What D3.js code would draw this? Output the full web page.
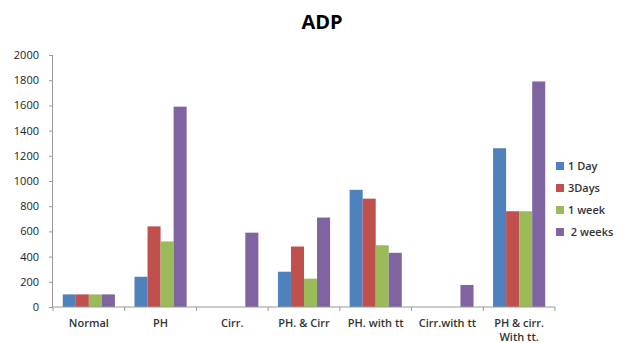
<!DOCTYPE html>
<html>
<head>
<meta charset="utf-8">
<script src="https://cdn.jsdelivr.net/npm/d3@7"></script>
<style>
  body { margin: 0; background: #fff; }
  svg { display: block; font-family: "Open Sans", "DejaVu Sans", sans-serif; }
</style>
</head>
<body>
<svg id="chart" width="624" height="343"></svg>
<script>
// ADP levels by group and time point
const categories = ["Normal", "PH", "Cirr.", "PH. & Cirr", "PH. with tt", "Cirr.with tt", "PH & cirr.|With tt."];
const seriesNames = ["1 Day", "3Days", "1 week", " 2 weeks"];
const day1   = [100, 240, 0, 280, 930, 0, 1260];
const days3  = [100, 640, 0, 480, 860, 0, 760];
const week1  = [100, 520, 0, 225, 490, 0, 760];
const weeks2 = [100, 1590, 590, 710, 430, 175, 1790];
const colors = ["#4F81BD", "#C0504D", "#9BBB59", "#8064A2"];
const yTicks = [0, 200, 400, 600, 800, 1000, 1200, 1400, 1600, 1800, 2000];

const series = [day1, days3, week1, weeks2];
const svg = d3.select("#chart");
const m = { left: 53, right: 555, top: 55, bottom: 307 };

const x = d3.scaleBand().domain(categories).range([m.left, m.right]).paddingInner(0).paddingOuter(0);
const xs = d3.scaleBand().domain(d3.range(series.length)).range([0, x.bandwidth()]).paddingOuter(0.75).paddingInner(0);
const y = d3.scaleLinear().domain([0, 2000]).range([m.bottom, m.top]);

// Title
svg.append("text").attr("x", 322).attr("y", 29).attr("text-anchor", "middle")
  .attr("font-size", 20).attr("font-weight", "bold").attr("fill", "#000").text("ADP");

// Bars
const groups = svg.append("g").selectAll("g").data(series).join("g")
  .attr("fill", (d, i) => colors[i]);
groups.each(function(vals, si) {
  d3.select(this).selectAll("rect").data(vals.map((v, ci) => ({ v, c: categories[ci] })))
    .join("rect")
    .filter(d => d.v > 0)
    .attr("x", d => x(d.c) + xs(si))
    .attr("width", xs.bandwidth())
    .attr("y", d => y(d.v))
    .attr("height", d => y(0) - y(d.v));
});

// Y axis
const yAxis = svg.append("g").attr("transform", `translate(${m.left},0)`)
  .call(d3.axisLeft(y).tickValues(yTicks).tickSize(4).tickPadding(10).tickFormat(d3.format("d")));
yAxis.select(".domain").attr("stroke", "#999").attr("d", `M-0.5,${m.top}V${m.bottom}`);
yAxis.selectAll(".tick line").attr("stroke", "#999");
yAxis.selectAll("text").attr("font-size", 11).attr("fill", "#222").attr("font-family", "Open Sans, sans-serif");

// X axis with ticks at category boundaries
const xAxis = svg.append("g").attr("transform", `translate(0,${m.bottom})`);
xAxis.append("line").attr("x1", m.left).attr("x2", m.right).attr("stroke", "#999");
const bounds = categories.map(c => x(c)).concat([m.right]);
xAxis.selectAll("line.tk").data(bounds).join("line").attr("class", "tk")
  .attr("x1", d => d).attr("x2", d => d).attr("y1", 0).attr("y2", 4).attr("stroke", "#999");
const labels = xAxis.selectAll("text").data(categories).join("text")
  .attr("x", d => x(d) + x.bandwidth() / 2)
  .attr("y", 20)
  .attr("text-anchor", "middle")
  .attr("font-size", 11)
  .attr("font-weight", "600")
  .attr("fill", "#333");
labels.each(function(d) {
  const parts = d.split("|");
  d3.select(this).selectAll("tspan").data(parts).join("tspan")
    .attr("x", x(d) + x.bandwidth() / 2)
    .attr("dy", (p, i) => i === 0 ? 0 : 13.5)
    .text(p => p);
});

// Legend
const legend = svg.append("g").selectAll("g").data(seriesNames).join("g")
  .attr("transform", (d, i) => `translate(556,${166 + i * 22})`);
legend.append("rect").attr("x", 0).attr("y", -4).attr("width", 8).attr("height", 8)
  .attr("fill", (d, i) => colors[i]);
legend.append("text").attr("x", 12).attr("y", 4).attr("font-size", 11)
  .attr("font-weight", "600").attr("fill", "#333").attr("xml:space", "preserve")
  .style("white-space", "pre").text(d => d);
</script>
</body>
</html>
